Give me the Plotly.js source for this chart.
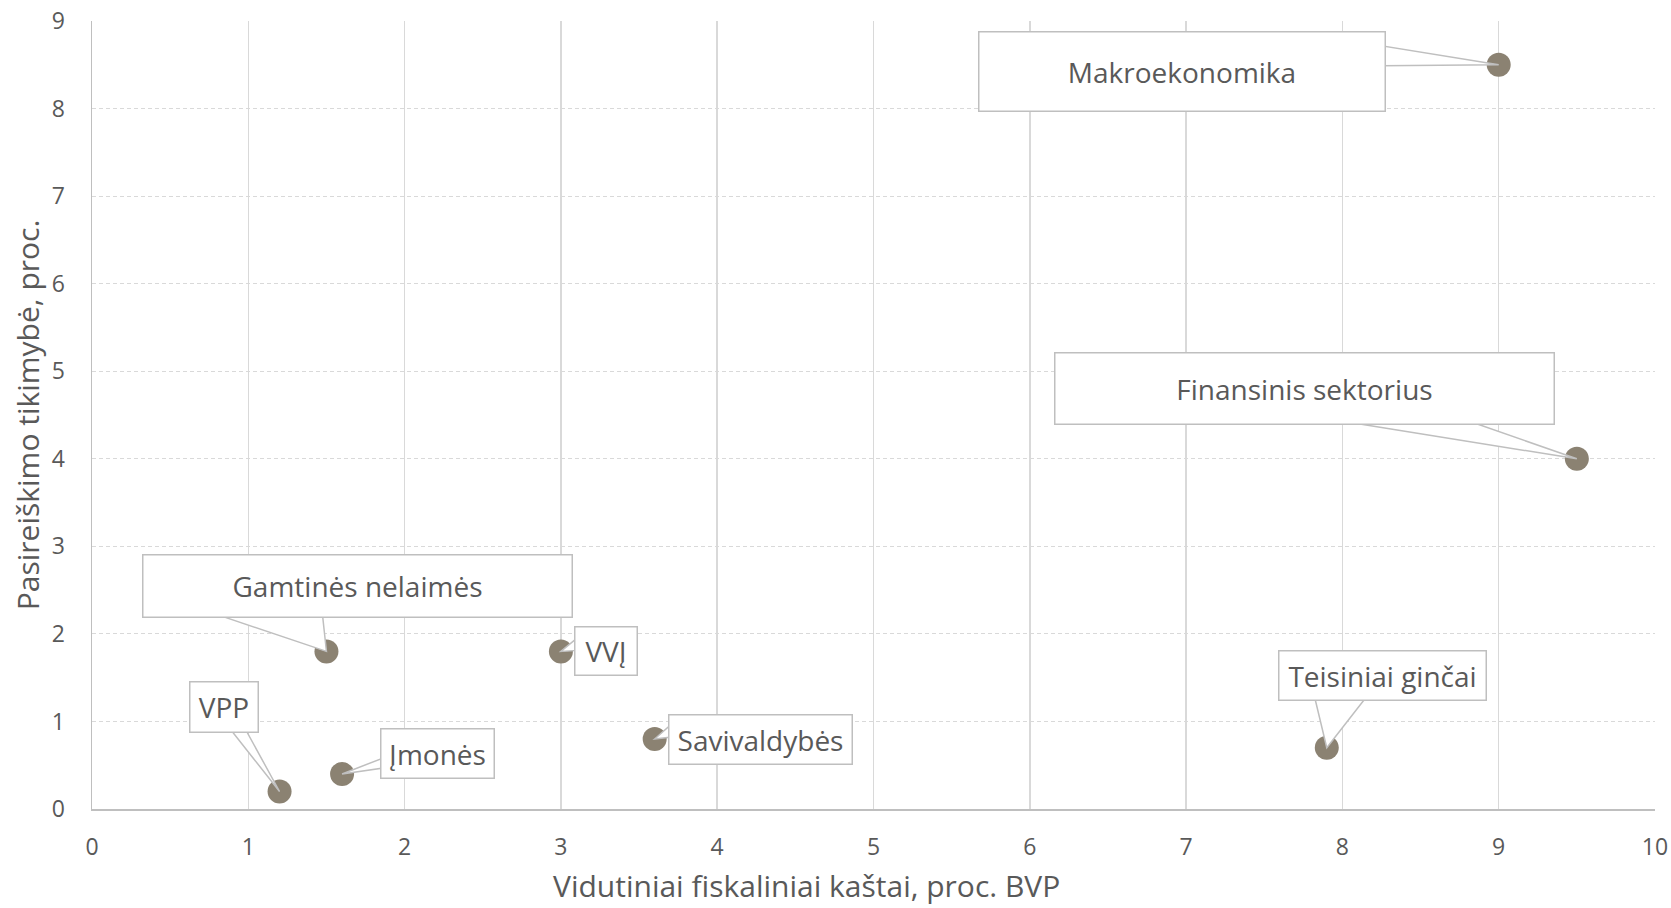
<!DOCTYPE html>
<html>
<head>
<meta charset="utf-8">
<script src="https://cdn.plot.ly/plotly-3.0.1.min.js"></script>
<style>html,body{margin:0;padding:0;background:#fff;}#chart{width:1671px;height:908px;}</style>
</head>
<body>
<div id="chart"></div>
<script>
// ---- data ----
const labels = ['Makroekonomika', 'Finansinis sektorius', 'Gamtinės nelaimės', 'VVĮ', 'Savivaldybės', 'Teisiniai ginčai', 'VPP', 'Įmonės'];
const costs = [9.0, 9.5, 1.5, 3.0, 3.6, 7.9, 1.2, 1.6];
const probs = [8.5, 4.0, 1.8, 1.8, 0.8, 0.7, 0.2, 0.4];
const xTickVals = [0, 1, 2, 3, 4, 5, 6, 7, 8, 9, 10];
const yTickVals = [0, 1, 2, 3, 4, 5, 6, 7, 8, 9];
const xTitle = 'Vidutiniai fiskaliniai kaštai, proc. BVP';
const yTitle = 'Pasireiškimo tikimybė, proc.';

// ---- callout layout (pixel offsets from each point; dy positive = up) ----
const calloutW = [405, 498, 428, 61, 182, 206, 67, 112];
const calloutH = [78, 70, 61, 47, 48, 48, 49, 48];
const calloutDx = [-317, -272, 31, 45, 106, 56, -56, 95];
const calloutDy = [-7, 70, 65, 0, -1, 72, 84, 20];
const wedgeA = [[-117, 19], [-231, 37], [-110, 37], [17, 14], [17, 15], [-12, 50], [-49, 62], [41, 16]];
const wedgeB = [[-117, -1], [-106, 37], [-4, 37], [17, 1], [17, 2], [39, 50], [-34, 62], [41, 6]];

const txtColor = '#595959';
const font = '"Open Sans", "Segoe UI", sans-serif';
const edge = '#bfbfbf';

const shapes = labels.map((l, i) => ({
  type: 'path', xref: 'x', yref: 'y', layer: 'above',
  xsizemode: 'pixel', ysizemode: 'pixel',
  xanchor: costs[i], yanchor: probs[i],
  path: `M 0 0 L ${wedgeA[i][0]} ${wedgeA[i][1]} L ${wedgeB[i][0]} ${wedgeB[i][1]} Z`,
  fillcolor: '#ffffff', line: {color: edge, width: 1.5}
}));

const annotations = labels.map((l, i) => ({
  x: costs[i], y: probs[i], xref: 'x', yref: 'y',
  text: l, showarrow: false,
  xanchor: 'center', yanchor: 'middle',
  xshift: calloutDx[i], yshift: calloutDy[i],
  width: calloutW[i], height: calloutH[i],
  align: 'center', valign: 'middle',
  bgcolor: '#ffffff', bordercolor: edge, borderwidth: 1.5, borderpad: 0,
  font: {family: font, size: 28, color: txtColor}
}));

annotations.push({
  xref: 'paper', yref: 'paper', x: 0.457, y: -0.0975,
  xanchor: 'center', yanchor: 'middle', showarrow: false,
  text: xTitle, font: {family: font, size: 30, color: txtColor}
});

const trace = {
  type: 'scatter', mode: 'markers',
  x: costs, y: probs, text: labels,
  marker: {size: 24, color: '#8b8272'},
  cliponaxis: false, hoverinfo: 'text+x+y'
};

const layout = {
  width: 1671, height: 908,
  margin: {l: 92, r: 16, t: 21, b: 99},
  paper_bgcolor: '#ffffff', plot_bgcolor: '#ffffff',
  showlegend: false,
  font: {family: font, color: txtColor},
  xaxis: {
    range: [0, 10], tickvals: xTickVals, ticktext: xTickVals.map(String),
    showgrid: true, gridcolor: '#d9d9d9', gridwidth: 1.5,
    showline: true, linecolor: edge, linewidth: 1.5, mirror: false,
    zeroline: false, ticks: '', ticklabelstandoff: 17,
    tickfont: {family: font, size: 23, color: txtColor},
    title: {text: ''}
  },
  yaxis: {
    range: [0, 9], tickvals: yTickVals, ticktext: yTickVals.map(String),
    showgrid: true, gridcolor: '#d9d9d9', gridwidth: 1.2, griddash: '4px,3px',
    showline: true, linecolor: edge, linewidth: 1.5,
    zeroline: false, ticks: '', ticklabelstandoff: 21,
    tickfont: {family: font, size: 23, color: txtColor},
    title: {text: yTitle, font: {family: font, size: 30, color: txtColor}, standoff: 3}
  },
  shapes: shapes,
  annotations: annotations
};

Plotly.newPlot('chart', [trace], layout, {displayModeBar: false, staticPlot: true});
</script>
</body>
</html>
